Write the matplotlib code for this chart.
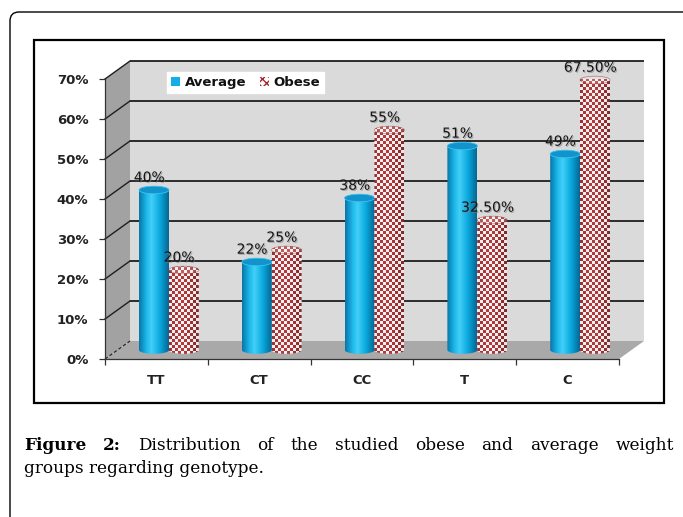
import numpy as np
import matplotlib
matplotlib.use("Agg")
import matplotlib.pyplot as plt
from matplotlib.patches import Polygon, Rectangle, Ellipse, PathPatch, FancyBboxPatch, Patch
from matplotlib.path import Path
import matplotlib.patheffects as pe
from matplotlib.colors import LinearSegmentedColormap, to_rgb

# ---------------- data ----------------
categories = ["TT", "CT", "CC", "T", "C"]
average = [40, 22, 38, 51, 49]
obese = [20, 25, 55, 32.5, 67.5]
series_names = ["Average", "Obese"]
y_ticks = [0, 10, 20, 30, 40, 50, 60, 70]
caption_bold = "Figure 2:"
caption_text = "Distribution of the studied obese and average weight groups regarding genotype."


def fmt(v):
    return f"{int(v)}%" if float(v).is_integer() else f"{v:.2f}%"


# ---------------- figure ----------------
FW, FH, DPI = 6.83, 5.17, 100
fig = plt.figure(figsize=(FW, FH), dpi=DPI)
fig.patch.set_facecolor("white")

# outer rounded frame and inner chart frame (inches)
outer = FancyBboxPatch((0.10, -1.0), 8.0, 5.17 - 0.12 + 1.0,
                       boxstyle="round,pad=0,rounding_size=0.09",
                       transform=fig.dpi_scale_trans, fc="none", ec="black", lw=1.0)
fig.add_artist(outer)
inner = Rectangle((0.335, 1.14), 6.305, 3.63, transform=fig.dpi_scale_trans,
                  fc="none", ec="black", lw=1.6)
fig.add_artist(inner)

# front plane axes
ax = fig.add_axes([105 / 683, (517 - 359) / 517, 514 / 683, 280 / 517])
ax.patch.set_visible(False)
xmin, xmax, ymin, ymax = -0.5, len(categories) - 0.5, 0, 70
ppu_x = 514 / (xmax - xmin)     # pixels per category unit
ppu_y = 280 / (ymax - ymin)     # pixels per percent
dx = 25 / ppu_x                 # depth offset (data units)
dy = 18 / ppu_y

# walls & floor
back = Rectangle((xmin + dx, ymin + dy), xmax - xmin, ymax - ymin,
                 fc="#dadada", ec="none", zorder=0.3, clip_on=False)
ax.add_patch(back)
side = Polygon([(xmin, ymin), (xmin + dx, ymin + dy), (xmin + dx, ymax + dy), (xmin, ymax)],
               closed=True, fc="#a2a2a2", ec="none", zorder=0.35, clip_on=False)
ax.add_patch(side)
floor = Polygon([(xmin, ymin), (xmax, ymin), (xmax + dx, ymin + dy), (xmin + dx, ymin + dy)],
                closed=True, fc="#a9a9a9", ec="none", zorder=0.4, clip_on=False)
ax.add_patch(floor)

for v in y_ticks[1:]:
    ax.plot([xmin + dx, xmax + dx], [v + dy, v + dy], color="#1e1e1e", lw=1.3,
            zorder=0.5, clip_on=False, solid_capstyle="butt")
    ax.plot([xmin, xmin + dx], [v, v + dy], color="#1e1e1e", lw=1.0,
            zorder=0.5, clip_on=False)
ax.plot([xmin, xmin + dx], [ymin, ymin + dy], color="#1e1e1e", lw=0.8, ls=(0, (3, 2)),
        zorder=0.5, clip_on=False)

# ---------------- cylinders ----------------
bw = 30 / ppu_x
a = bw / 2
b = 3.8 / ppu_y
base = dy / 2

blue_cmap = LinearSegmentedColormap.from_list(
    "blue", [(0, "#0874a6"), (0.25, "#1cb8ea"), (0.42, "#42cff7"),
             (0.7, "#0aa8de"), (1, "#056592")])


def shade(u):
    return 0.72 + 0.28 * np.clip(np.cos((u - 0.4) * np.pi * 0.95), 0, 1)


def cylinder(xc, v, kind, z):
    top = v + dy / 2
    t = np.linspace(0, np.pi, 40)
    bx = xc - a * np.cos(t)
    by = base - b * np.sin(t)
    tx = xc + a * np.cos(t)
    ty = top + b * np.sin(t)
    verts = np.vstack([np.column_stack([bx, by]), np.column_stack([tx, ty]),
                       [[bx[0], by[0]]]])
    codes = [Path.MOVETO] + [Path.LINETO] * (len(verts) - 2) + [Path.CLOSEPOLY]
    patch = PathPatch(Path(verts, codes), fc="none", ec="none", zorder=z)
    ax.add_patch(patch)
    y0, y1 = base - b, top + b
    ncol = 30
    nrow = max(2, int(round((y1 - y0) * ppu_y)))
    u = (np.arange(ncol) + 0.5) / ncol
    if kind == 0:
        row = blue_cmap(u)[:, :3]
        img = np.repeat(row[None, :, :], nrow, axis=0)
    else:
        r, c = np.mgrid[0:nrow, 0:ncol]
        chk = ((r // 3) + (c // 3)) % 2
        dark = np.array(to_rgb("#b53a3c"))
        light = np.array(to_rgb("#fbf3f3"))
        s = shade(u)[None, :, None]
        img = np.where(chk[:, :, None] == 1, dark[None, None, :] * s,
                       light[None, None, :] * (0.8 + 0.2 * s))
    im = ax.imshow(img, extent=(xc - a, xc + a, y0, y1), origin="lower",
                   aspect="auto", interpolation="nearest", zorder=z)
    im.set_clip_path(patch)
    if kind == 0:
        ax.add_patch(Ellipse((xc, top), 2 * a, 2 * b, fc="#1393cb", ec="#3cc4f0",
                             lw=0.6, zorder=z + 0.01, clip_on=False))
    else:
        ax.add_patch(Ellipse((xc, top), 2 * a, 2 * b, fc=(1, 1, 1, 0.18), ec=(0.6, 0.2, 0.2, 0.6),
                             lw=0.5, zorder=z + 0.01, clip_on=False))
    return top


shadow = [pe.SimplePatchShadow(offset=(0.8, -0.8), shadow_rgbFace="#808080", alpha=0.6), pe.Normal()]
for i, cat in enumerate(categories):
    for k, vals in enumerate([average, obese]):
        v = vals[i]
        xc = i + (-0.145 if k == 0 else 0.145) + dx / 2
        z = 2 + i * 0.1 + k * 0.05
        top = cylinder(xc, v, k, z)
        ax.annotate(fmt(v), (xc, top), xytext=(-3.5, 6.0), textcoords="offset points",
                    ha="center", va="baseline", fontsize=10, color="#151515",
                    zorder=10, annotation_clip=False, path_effects=shadow)

# ---------------- axes styling ----------------
ax.set_xlim(xmin, xmax)
ax.set_ylim(ymin, ymax)
for s in ["top", "right"]:
    ax.spines[s].set_visible(False)
for s in ["left", "bottom"]:
    ax.spines[s].set_color("#333333")
    ax.spines[s].set_linewidth(0.9)
ax.set_yticks(y_ticks)
ax.set_yticklabels([f"{v}%" for v in y_ticks], fontsize=9.5, fontweight="bold", color="#222222")
ax.tick_params(axis="y", direction="out", length=4, width=0.9, color="#333333", pad=8)
ax.set_xticks(range(len(categories)))
ax.set_xticklabels(categories, fontsize=9.5, fontweight="bold", color="#222222")
ax.set_xticks(np.arange(xmin, xmax + 0.01, 1.0), minor=True)
ax.tick_params(axis="x", which="major", length=0, pad=11)
ax.tick_params(axis="x", which="minor", direction="out", length=4, width=0.9, color="#333333")

# legend
handles = [Patch(facecolor="#14aee6", edgecolor="none"),
           Patch(facecolor="white", edgecolor="#a8292b", hatch="xxxx", lw=0)]
leg = fig.legend(handles, series_names, loc="upper left",
                 bbox_to_anchor=(1.67, FH - 0.72), bbox_transform=fig.dpi_scale_trans,
                 ncol=2, frameon=True, fancybox=False, framealpha=1, edgecolor="white",
                 facecolor="white", handlelength=0.7, handleheight=0.7, handletextpad=0.35,
                 columnspacing=1.0, borderpad=0.3, borderaxespad=0,
                 prop=dict(size=9.5, weight="bold"))
for t in leg.get_texts():
    t.set_color("#111111")

# ---------------- caption (justified first line) ----------------
cap_font = dict(family="DejaVu Serif", size=12.2, color="black")
words = caption_text.split()
line1 = [(w, "bold") for w in caption_bold.split()] + [(w, "normal") for w in words[:8]]
line2 = " ".join(words[8:])
x0, x1 = 0.24, 6.74
y1_base, y2_base = FH - 4.50, FH - 4.73
texts = [fig.text(0, y1_base, w, fontweight=wt, transform=fig.dpi_scale_trans,
                  va="baseline", ha="left", **cap_font) for w, wt in line1]
renderer = fig.canvas.get_renderer()
widths = [t.get_window_extent(renderer).width / DPI for t in texts]
gap = (x1 - x0 - sum(widths)) / (len(texts) - 1)
x = x0
for t, w in zip(texts, widths):
    t.set_x(x)
    x += w + gap
fig.text(x0, y2_base, line2, transform=fig.dpi_scale_trans, va="baseline", ha="left", **cap_font)

fig.savefig("out.png", dpi=DPI)
